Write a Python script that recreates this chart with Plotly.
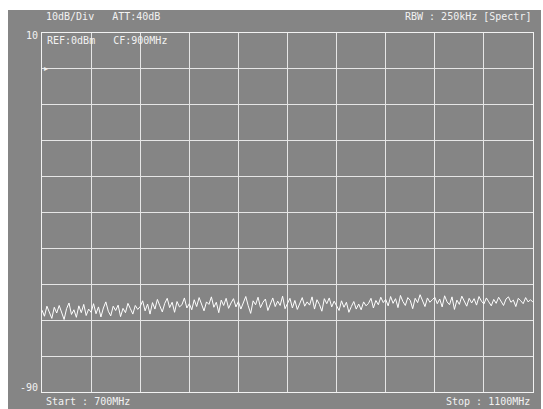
import plotly.graph_objects as go

# Frequency axis (MHz), 2 MHz steps from 700 to 1100
freq_start = 700
freq_stop = 1100
freq_step = 2
freqs = list(range(freq_start, freq_stop + 1, freq_step))

level_dbm = [
    -67.2, -68.9, -66.1, -67.8, -69.5, -66.4, -68.0, -65.9, -67.6, -69.8, -66.8, -65.2, -68.4, -67.1, -69.2, -66.0, -67.9, -65.6, -68.7, -66.9,
    -67.8, -65.4, -68.2, -66.3, -69.1, -66.6, -64.9, -67.5, -68.8, -66.1, -67.3, -65.8, -69.0, -66.7, -67.9, -65.3, -66.8, -68.3, -65.9, -67.0,
    -66.2, -64.6, -67.4, -65.5, -68.3, -65.1, -66.9, -64.2, -66.0, -67.7, -65.3, -63.9, -66.5, -65.0, -67.8, -64.8, -66.3, -65.7, -63.8, -66.6,
    -65.4, -67.1, -64.3, -66.2, -63.7, -65.8, -67.4, -64.9, -65.6, -63.5, -66.4, -65.0, -67.9, -64.4, -65.9, -63.9, -66.7, -65.2, -64.0, -66.3,
    -64.8, -66.9, -65.1, -63.4, -66.0, -68.1, -64.6, -65.7, -63.6, -66.5, -65.0, -64.1, -67.3, -65.4, -63.8, -66.2, -64.7, -65.9, -63.3, -66.8,
    -65.3, -63.9, -66.6, -64.5, -67.0, -65.2, -63.7, -66.1, -64.9, -65.8, -63.5, -66.9, -64.3, -65.6, -67.5, -64.0, -65.4, -63.8, -66.3, -64.7,
    -65.9, -67.3, -64.6, -66.4, -65.0, -67.8, -66.2, -64.8, -66.9, -65.5, -67.1, -64.9, -66.0, -65.3, -63.9, -66.6, -64.5, -65.7, -63.6, -65.1,
    -64.2, -66.0, -63.4, -65.3, -64.0, -66.5, -63.1, -64.8, -65.9, -63.7, -64.5, -66.8, -63.9, -65.1, -62.9, -64.6, -66.2, -63.8, -65.0, -64.3,
    -63.6, -65.4, -64.1, -66.3, -63.2, -64.9, -65.7, -63.5, -67.0, -64.4, -65.6, -63.3, -64.8, -66.1, -63.9, -65.2, -64.0, -65.8, -63.4, -64.7,
    -65.5, -63.8, -64.9, -66.0, -64.2, -65.3, -63.6, -64.8, -65.9, -64.1, -63.5, -65.0, -64.4, -66.2, -63.9, -64.6, -65.4, -63.7, -64.9, -64.3,
    -65.0,
]

ref_level = 10
bottom_level = -90
db_per_div = 10
freq_div = 40

header_left = "10dB/Div   ATT:40dB"
header_right = "RBW : 250kHz [Spectr]"
ref_box_text = "REF:0dBm   CF:900MHz"
top_label = "10"
bottom_label = "-90"
start_label = "Start : 700MHz"
stop_label = "Stop : 1100MHz"

W, H = 543, 409
ML, MR, MT, MB = 42, 10, 33, 17
PW, PH = W - ML - MR, H - MT - MB

SCREEN = "#858585"
FG = "#f2f2f2"
FONT = dict(family="DejaVu Sans Mono", size=10, color=FG)


def px_x(p):
    return (p - ML) / PW


def px_y(p):
    return (H - MB - p) / PH


fig = go.Figure()
fig.add_trace(go.Scatter(
    x=freqs, y=level_dbm, mode="lines",
    line=dict(color="#ffffff", width=1),
    hoverinfo="skip", showlegend=False,
))

fig.add_shape(type="rect", xref="paper", yref="paper",
              x0=px_x(8), x1=px_x(541), y0=px_y(409), y1=px_y(10),
              fillcolor=SCREEN, line=dict(width=0), layer="below")

annotations = [
    dict(text=header_left, x=px_x(44), y=px_y(16), xanchor="left", yanchor="middle"),
    dict(text=header_right, x=px_x(533), y=px_y(16), xanchor="right", yanchor="middle"),
    dict(text=ref_box_text, x=px_x(45), y=px_y(40), xanchor="left", yanchor="middle"),
    dict(text=top_label, x=px_x(40), y=px_y(36), xanchor="right", yanchor="middle"),
    dict(text=bottom_label, x=px_x(40), y=px_y(387), xanchor="right", yanchor="middle"),
    dict(text=start_label, x=px_x(44), y=px_y(401), xanchor="left", yanchor="middle"),
    dict(text=stop_label, x=px_x(532), y=px_y(401), xanchor="right", yanchor="middle"),
    dict(text="\u25b8", x=px_x(42), y=px_y(68), xanchor="left", yanchor="middle",
         font=dict(family="DejaVu Sans", size=8, color=FG)),
]
for a in annotations:
    a.setdefault("font", FONT)
    a.update(xref="paper", yref="paper", showarrow=False)

fig.update_layout(
    width=W, height=H,
    margin=dict(l=ML, r=MR, t=MT, b=MB, pad=0),
    paper_bgcolor="#ffffff",
    plot_bgcolor=SCREEN,
    annotations=annotations,
    showlegend=False,
)
fig.update_xaxes(range=[freq_start, freq_stop], tick0=freq_start, dtick=freq_div,
                 showgrid=True, gridcolor="#e6e6e6", gridwidth=1,
                 showticklabels=False, ticks="", zeroline=False,
                 showline=True, mirror=True, linecolor=FG, linewidth=1)
fig.update_yaxes(range=[bottom_level, ref_level], tick0=bottom_level, dtick=db_per_div,
                 showgrid=True, gridcolor="#e6e6e6", gridwidth=1,
                 showticklabels=False, ticks="", zeroline=False,
                 showline=True, mirror=True, linecolor=FG, linewidth=1)

fig.write_html("out.html")
